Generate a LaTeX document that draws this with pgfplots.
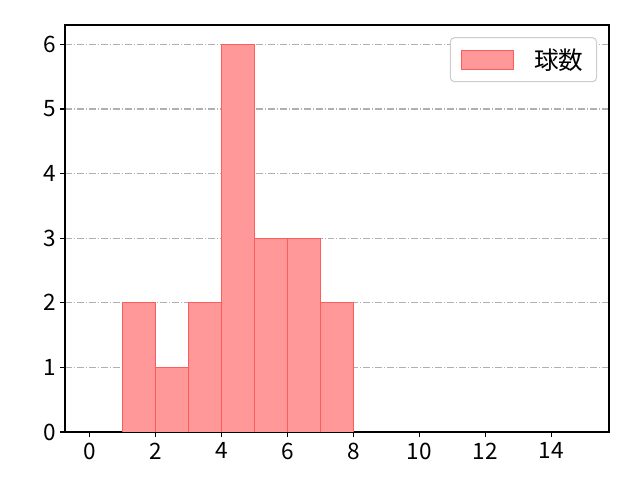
\documentclass[border=0pt]{standalone}
\usepackage{fontspec}
\setmainfont{Noto Sans CJK JP}
\usepackage{pgfplots}
\pgfplotsset{compat=1.18}
\definecolor{barfill}{HTML}{FF9999}
\definecolor{baredge}{HTML}{FF5C5C}
\definecolor{gridgray}{HTML}{B0B0B0}
\definecolor{legedge}{HTML}{CCCCCC}
\begin{document}
\begin{tikzpicture}
\path[use as bounding box] (0,0) rectangle (480bp,360bp);
\begin{axis}[
    at={(48.75bp,36bp)}, anchor=south west,
    scale only axis,
    width=408bp, height=305.25bp,
    xmin=-0.75, xmax=15.75,
    ymin=0, ymax=6.3,
    xtick={0,2,...,14},
    ytick={0,1,...,6},
    tick pos=left,
    tick align=outside,
    major tick length=3.6bp,
    axis line style={line width=0.83bp},
    every tick/.style={line width=0.83bp, black},
    ymajorgrids=true,
    major grid style={gridgray, line width=0.83bp,
        dash pattern=on 5.2bp off 1.5bp on 0.75bp off 1.5bp},
    tick label style={font=\fontsize{17}{18}\selectfont},
    /pgf/number format/assume math mode=true,
    xticklabel style={yshift=-1bp},
    yticklabel style={xshift=0.5bp},
    legend style={at={(0.978,0.97)}, anchor=north east,
        draw=legedge, rounded corners=3bp, line width=0.75bp,
        font=\fontsize{18.5}{20}\selectfont,
        inner xsep=8bp, inner ysep=6bp,
        cells={anchor=west}},
    legend image code/.code={
        \draw[#1, rounded corners=0pt] (0bp,-7bp) rectangle (39bp,7bp);
    },
    legend cell align=left,
]
\addplot[ybar interval, fill=barfill, draw=baredge, line width=0.75bp]
    coordinates {(1,2) (2,1) (3,2) (4,6) (5,3) (6,3) (7,2) (8,2)};
\addlegendentry{\hspace{13bp}球数}
\end{axis}
\end{tikzpicture}
\end{document}
